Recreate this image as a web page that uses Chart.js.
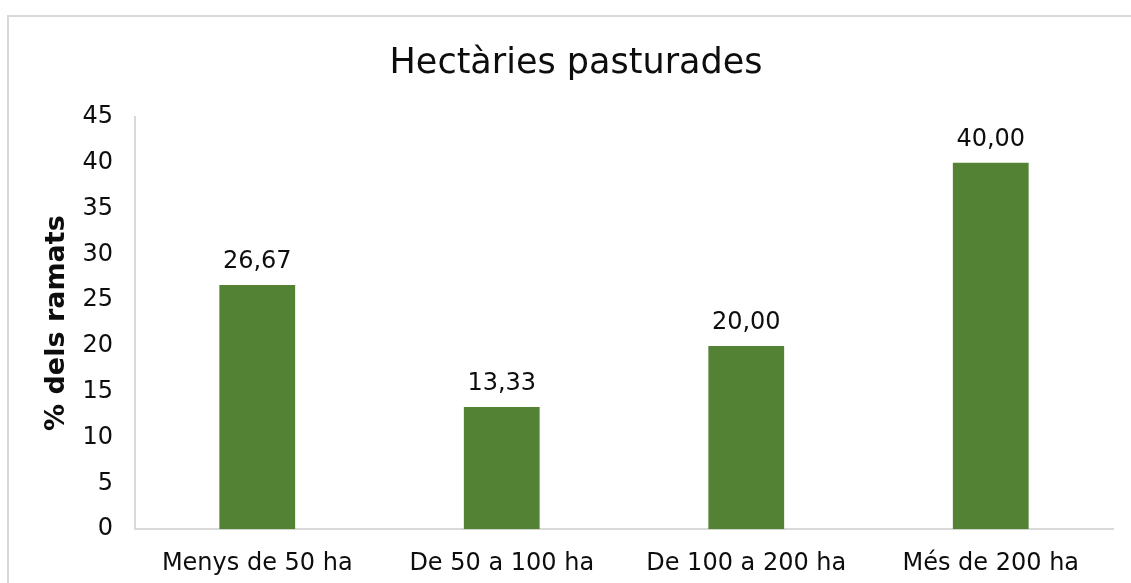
<!DOCTYPE html>
<html>
<head>
<meta charset="utf-8">
<script src="https://cdn.jsdelivr.net/npm/chart.js@4/dist/chart.umd.min.js"></script>
<style>
  html, body { margin: 0; padding: 0; background: #fff; overflow: hidden; }
  #frame { position: absolute; left: 7px; top: 15px; width: 1160px; height: 620px; border: 2px solid #d9d9d9; }
  #wrap { position: absolute; left: 0; top: 0; width: 1152px; height: 600px; }
</style>
</head>
<body>
<div id="frame"></div>
<div id="wrap"><canvas id="chart"></canvas></div>
<script>
const categories = ['Menys de 50 ha', 'De 50 a 100 ha', 'De 100 a 200 ha', 'Més de 200 ha'];
const shares = [26.67, 13.33, 20.00, 40.00];
const yTicks = [0, 5, 10, 15, 20, 25, 30, 35, 40, 45];

const FONT = '"DejaVu Sans", Verdana, sans-serif';
const barGreen = '#548235';
const axisGray = '#d9d9d9';

const valueLabels = {
  id: 'valueLabels',
  afterDatasetsDraw(chart) {
    const { ctx } = chart;
    const meta = chart.getDatasetMeta(0);
    ctx.save();
    ctx.fillStyle = '#0d0d0d';
    ctx.font = '24px ' + FONT;
    ctx.textAlign = 'center';
    ctx.textBaseline = 'alphabetic';
    meta.data.forEach((bar, i) => {
      ctx.fillText(shares[i].toFixed(2).replace('.', ','), bar.x, bar.y - 17);
    });
    ctx.restore();
  }
};

new Chart(document.getElementById('chart'), {
  type: 'bar',
  data: {
    labels: categories,
    datasets: [{
      data: shares,
      backgroundColor: barGreen,
      borderWidth: 0,
      categoryPercentage: 1,
      barPercentage: 0.31
    }]
  },
  options: {
    responsive: true,
    maintainAspectRatio: false,
    animation: false,
    layout: { padding: { top: 43, right: 39, left: 39, bottom: 10 } },
    plugins: {
      legend: { display: false },
      tooltip: { enabled: false },
      title: {
        display: true,
        text: 'Hectàries pasturades',
        color: '#0d0d0d',
        font: { family: FONT, size: 35, weight: 'normal' },
        padding: { top: 0, bottom: 32 }
      }
    },
    scales: {
      x: {
        grid: { display: false },
        border: { display: true, color: axisGray, width: 2 },
        ticks: { color: '#0d0d0d', font: { family: FONT, size: 24 }, padding: 12, maxRotation: 0 }
      },
      y: {
        min: 0,
        max: 45,
        afterBuildTicks(axis) { axis.ticks = yTicks.map(v => ({ value: v })); },
        afterFit(axis) { axis.width = 96; },
        grid: { display: false },
        border: { display: true, color: axisGray, width: 2 },
        ticks: { color: '#0d0d0d', font: { family: FONT, size: 24 }, padding: 14 },
        title: {
          display: true,
          text: '% dels ramats',
          color: '#0d0d0d',
          font: { family: FONT, size: 27, weight: 'bold' },
          padding: { top: 2, bottom: 0 }
        }
      }
    }
  },
  plugins: [valueLabels]
});
</script>
</body>
</html>
